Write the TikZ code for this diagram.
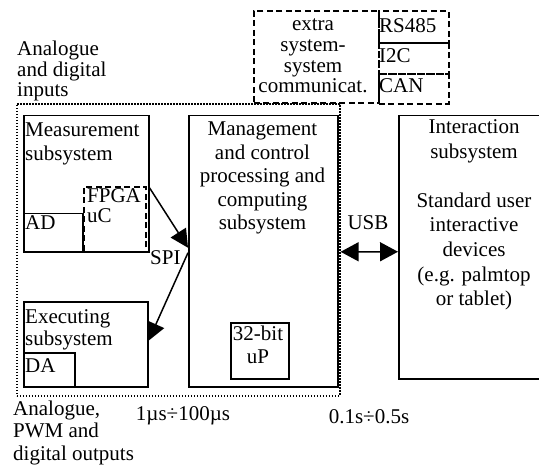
\documentclass[tikz,border=0pt]{standalone}
\usepackage{fontspec}
\setmainfont{Liberation Serif}
\usetikzlibrary{arrows.meta}
\begin{document}
\begin{tikzpicture}[x=1bp,y=-1bp,
  box/.style={draw, line width=1.5bp, inner sep=0, anchor=north west},
  dbox/.style={box, line width=1.7bp, dash pattern=on 6bp off 3.5bp},
  dotbox/.style={draw, line width=1.6bp, dash pattern=on 1.6bp off 1.4bp, inner sep=0, anchor=north west},
  txt/.style={inner sep=0, font=\fontsize{21bp}{#1}\selectfont},
  txt/.default=21bp,
  arr/.style={line width=1.5bp, -{Triangle[length=18bp,width=18bp]}},
  darr/.style={line width=1.5bp, {Triangle[length=18bp,width=19bp]}-{Triangle[length=18bp,width=19bp]}}
]
\path[use as bounding box] (0,0) rectangle (539,468);

% boxes
\node[dotbox, minimum width=323bp, minimum height=292bp] (outer) at (16,103) {};
\node[box, minimum width=125bp, minimum height=136bp] (meas) at (23,115) {};
\node[box, minimum width=59bp, minimum height=38bp] (ad) at (23,213) {};
\node[dbox, minimum width=62bp, minimum height=65bp] (fpga) at (83,186) {};
\node[box, minimum width=149bp, minimum height=271bp] (mgmt) at (188,115) {};
\node[box, minimum width=58bp, minimum height=56bp] (cpu) at (230,322) {};
\node[box, minimum width=124bp, minimum height=85bp] (exec) at (23,301) {};
\node[box, minimum width=51bp, minimum height=34bp] (da) at (23,352) {};
\begin{scope}
\clip (0,0) rectangle (539,468);
\node[box, minimum width=152bp, minimum height=263bp] (inter) at (398,115) {};
\end{scope}
\node[dbox, minimum width=125bp, minimum height=92bp] (extra) at (253,10) {};
\node[dbox, minimum width=70bp, minimum height=32bp] (rs) at (378,10) {};
\node[dbox, minimum width=70bp, minimum height=31bp] (i2c) at (378,42) {};
\node[dbox, minimum width=70bp, minimum height=30bp] (can) at (378,73) {};

% texts (base anchor = baseline of the last line)
\node[txt=20.5bp, anchor=base west, align=left] (tin) at (17,97) {Analogue\\and digital\\inputs};
\node[txt=24bp, anchor=base west, align=left] (tmeas) at (25,161) {Measurement\\subsystem};
\node[txt, anchor=base west] (tad) at (25,230) {AD};
\node[txt=20bp, anchor=base west, align=left] (tfpga) at (87,223) {FPGA\\uC};
\node[txt=23.5bp, anchor=base, align=center] (tmgmt) at (262.5,230) {Management\\and control\\processing and\\computing\\subsystem};
\node[txt=23bp, anchor=base, align=center] (tcpu) at (258,363) {32-bit\\uP};
\node[txt=22bp, anchor=base west, align=left] (texec) at (25,345) {Executing\\subsystem};
\node[txt, anchor=base west] (tda) at (25,372) {DA};
\node[txt=24.5bp, anchor=base, align=center] (tint) at (474,305.5) {Interaction\\subsystem\\[24.5bp]Standard user\\interactive\\devices\\(e.g. palmtop\\or tablet)};
\node[txt=20.7bp, anchor=base, align=center] (textra) at (313,93) {extra\\system-\\system\\communicat.};
\node[txt, anchor=base west] (trs) at (379,33) {RS485};
\node[txt, anchor=base west] (ti2c) at (379,63) {I2C};
\node[txt, anchor=base west] (tcan) at (379,93) {CAN};
\node[txt=22.5bp, anchor=base west, align=left] (tout) at (13,460) {Analogue,\\PWM and\\digital outputs};
\node[txt, anchor=base] (t1us) at (183,420) {1µs÷100µs};
\node[txt, anchor=base] (t01s) at (369,423) {0.1s÷0.5s};
\node[txt, anchor=base] (tusb) at (368,230) {USB};
\node[txt, anchor=base west] (tspi) at (150,265) {SPI};

% connectors
\draw[arr] ([yshift=-4bp]meas.east) -- ([yshift=3.5bp]mgmt.west);
\draw[arr] ([yshift=-1.5bp]mgmt.west) -- ([yshift=3.5bp]exec.east);
\draw[darr] ([yshift=-2bp]outer.east) -- ([yshift=-4.5bp]inter.west);
\end{tikzpicture}
\end{document}
